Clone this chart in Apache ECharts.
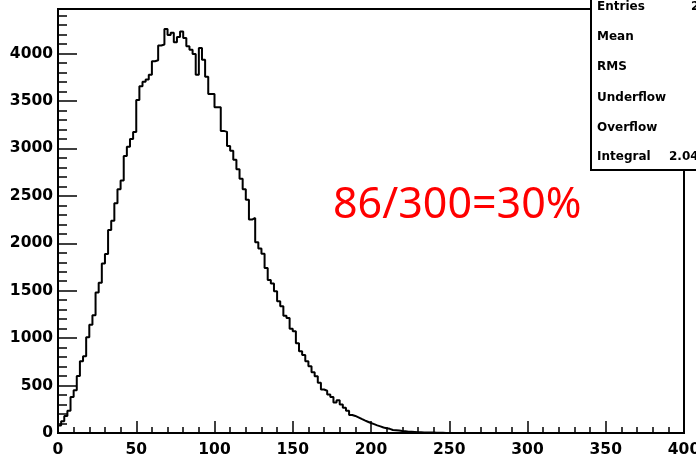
<!DOCTYPE html>
<html>
<head>
<meta charset="utf-8">
<script src="https://cdn.jsdelivr.net/npm/echarts@6/dist/echarts.min.js"></script>
<style>
  html, body { margin: 0; padding: 0; background: #fff; }
  #chart { width: 696px; height: 459px; }
</style>
</head>
<body>
<div id="chart"></div>
<script>
// Histogram: 200 bins of width 2 over [0, 400]; counts listed up to the last filled bin.
const binWidth = 2;
const counts = [
  80, 125, 180, 235, 380, 450, 600, 757, 808, 1010,
  1140, 1241, 1480, 1585, 1788, 1888, 2140, 2238, 2423, 2570,
  2662, 2919, 3019, 3100, 3174, 3511, 3655, 3703, 3728, 3778,
  3920, 3930, 4085, 4095, 4259, 4195, 4220, 4120, 4175, 4234,
  4164, 4076, 4041, 3995, 3778, 4059, 3936, 3755, 3575, 3575,
  3435, 3435, 3185, 3175, 3025, 2975, 2880, 2780, 2680, 2570,
  2460, 2250, 2267, 2010, 1945, 1890, 1740, 1613, 1577, 1494,
  1389, 1336, 1236, 1213, 1100, 1074, 946, 862, 822, 757,
  704, 641, 599, 529, 458, 446, 406, 380, 322, 345,
  300, 265, 235, 190, 180, 165, 148, 133, 119, 105,
  93, 80, 70, 58, 50, 44, 32, 30, 26, 20,
  19, 14, 12, 10, 8, 8, 6, 5, 5, 4,
  3, 2, 2, 1, 0
];
const xTicks = [0, 50, 100, 150, 200, 250, 300, 350, 400];
const yTicks = [0, 500, 1000, 1500, 2000, 2500, 3000, 3500, 4000];
const statNames = ['Entries', 'Mean', 'RMS', 'Underflow', 'Overflow', 'Integral'];
const entriesText = '204236';
const integralText = '2.04e+05';
const note = '86/300=30%';

// step outline: each bin starts at its lower edge
const outline = [[0, 0]];
counts.forEach((c, i) => outline.push([i * binWidth, c]));
outline.push([counts.length * binWidth, 0]);

const axisFont = { fontFamily: '"DejaVu Sans", sans-serif', fontWeight: 'bold', fontSize: 15.5, color: '#000' };
const statFont = 'bold 12px "DejaVu Sans", sans-serif';

const chart = echarts.init(document.getElementById('chart'), null, { renderer: 'canvas' });

const statRows = [7, 37, 67, 98, 128, 157];
const graphics = [
  { type: 'rect', z: 100, shape: { x: 591, y: -3, width: 110, height: 173 },
    style: { fill: '#fff', stroke: '#000', lineWidth: 2 } }
];
statNames.forEach((n, k) => {
  graphics.push({ type: 'text', z: 101, x: 597, y: statRows[k],
    style: { text: n, font: statFont, fill: '#000', textVerticalAlign: 'middle' } });
});
graphics.push({ type: 'text', z: 101, x: 691, y: statRows[0],
  style: { text: entriesText, font: statFont, fill: '#000', textVerticalAlign: 'middle' } });
graphics.push({ type: 'text', z: 101, x: 669, y: statRows[5],
  style: { text: integralText, font: statFont, fill: '#000', textVerticalAlign: 'middle' } });
graphics.push({ type: 'text', z: 50, x: 333, y: 206,
  style: { text: note, font: '43px "Noto Sans", sans-serif', fill: '#ff0000', textVerticalAlign: 'middle' } });

chart.setOption({
  animation: false,
  backgroundColor: '#fff',
  grid: { left: 58, right: 12, top: 9, bottom: 26, outerBoundsMode: 'none', containLabel: false,
    show: true, borderColor: '#000', borderWidth: 2, backgroundColor: 'transparent' },
  xAxis: {
    type: 'value', min: xTicks[0], max: xTicks[xTicks.length - 1], interval: 50,
    axisLine: { show: true, onZero: false, lineStyle: { color: '#000', width: 2 } },
    axisTick: { show: true, inside: true, length: 12, lineStyle: { color: '#000', width: 1.5 } },
    minorTick: { show: true, splitNumber: 5, length: 6, lineStyle: { color: '#000', width: 1.5 } },
    splitLine: { show: false },
    axisLabel: Object.assign({ margin: 9, showMaxLabel: true, hideOverlap: false,
      formatter: v => xTicks.includes(v) ? String(v) : '' }, axisFont)
  },
  yAxis: {
    type: 'value', min: 0, max: 4470, interval: 500,
    axisLine: { show: true, onZero: false, lineStyle: { color: '#000', width: 2 } },
    axisTick: { show: true, inside: true, length: 19, lineStyle: { color: '#000', width: 1.5 } },
    minorTick: { show: true, splitNumber: 5, length: 9, lineStyle: { color: '#000', width: 1.5 } },
    splitLine: { show: false },
    axisLabel: Object.assign({ margin: 5, padding: [3, 0, 0, 0],
      formatter: v => yTicks.includes(v) ? String(v) : '' }, axisFont)
  },
  series: [{
    type: 'line', step: 'end', symbol: 'none', data: outline,
    lineStyle: { color: '#000', width: 2 }, z: 5
  }],
  graphic: graphics
});
</script>
</body>
</html>
